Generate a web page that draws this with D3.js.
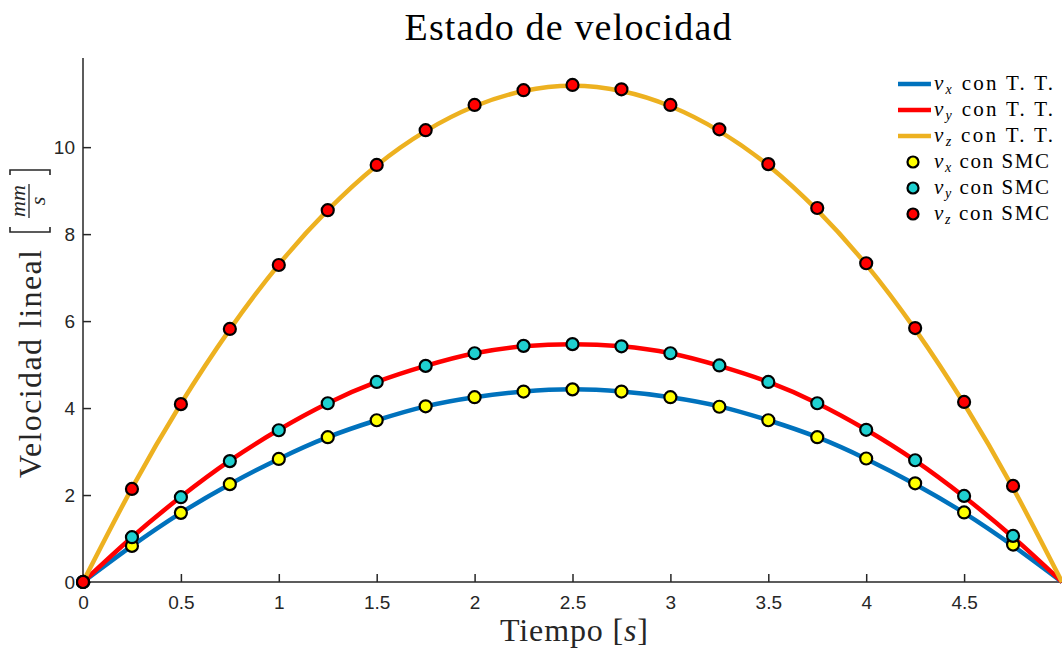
<!DOCTYPE html>
<html>
<head>
<meta charset="utf-8">
<script src="https://cdn.jsdelivr.net/npm/d3@7"></script>
<style>
  body { margin: 0; background: #fff; }
  svg { display: block; }
</style>
</head>
<body>
<svg width="1062" height="649"></svg>
<script>
// tiempo de muestreo (s)
const tiempoTT = [0, 0.25, 0.5, 0.75, 1, 1.25, 1.5, 1.75, 2, 2.25, 2.5, 2.75, 3, 3.25, 3.5, 3.75, 4, 4.25, 4.5, 4.75, 5];
const tiempoSMC = [0, 0.25, 0.5, 0.75, 1, 1.25, 1.5, 1.75, 2, 2.25, 2.5, 2.75, 3, 3.25, 3.5, 3.75, 4, 4.25, 4.5, 4.75];

// velocidades con T. T. (lineas)
const vxTT = [0, 0.83, 1.59, 2.25, 2.83, 3.33, 3.72, 4.04, 4.25, 4.38, 4.43, 4.38, 4.25, 4.04, 3.72, 3.33, 2.83, 2.25, 1.59, 0.83, 0];
const vyTT = [0, 1.03, 1.96, 2.79, 3.50, 4.11, 4.60, 4.97, 5.26, 5.42, 5.47, 5.42, 5.26, 4.97, 4.60, 4.11, 3.50, 2.79, 1.96, 1.03, 0];
const vzTT = [0, 2.16, 4.10, 5.81, 7.30, 8.55, 9.58, 10.37, 10.94, 11.29, 11.41, 11.29, 10.94, 10.37, 9.58, 8.55, 7.30, 5.81, 4.10, 2.16, 0];

// velocidades con SMC (marcadores)
const vxSMC = [0, 0.83, 1.59, 2.25, 2.83, 3.33, 3.72, 4.04, 4.25, 4.38, 4.43, 4.38, 4.25, 4.03, 3.72, 3.33, 2.84, 2.27, 1.60, 0.86];
const vySMC = [0, 1.03, 1.95, 2.78, 3.49, 4.11, 4.60, 4.97, 5.26, 5.43, 5.47, 5.42, 5.26, 4.98, 4.60, 4.11, 3.50, 2.80, 1.98, 1.06];
const vzSMC = [0, 2.14, 4.09, 5.82, 7.29, 8.55, 9.59, 10.39, 10.97, 11.31, 11.43, 11.33, 10.97, 10.41, 9.61, 8.60, 7.33, 5.84, 4.14, 2.21];

const xTicks = [0, 0.5, 1, 1.5, 2, 2.5, 3, 3.5, 4, 4.5];
const yTicks = [0, 2, 4, 6, 8, 10];

const svg = d3.select("svg");
const serif = "'Liberation Serif', 'Times New Roman', serif";
const sans = "'Liberation Sans', Arial, sans-serif";
const axisColor = "#262626";

const x = d3.scaleLinear().domain([0, 5]).range([83, 1062]);
const y = d3.scaleLinear().domain([0, 12.05]).range([582, 58]);

// ejes (sin caja, ticks hacia dentro)
const xAxis = svg.append("g")
  .attr("transform", `translate(0,${y(0)})`)
  .call(d3.axisBottom(x).tickValues(xTicks).tickSize(-8).tickPadding(14).tickFormat(d3.format("")));
const yAxis = svg.append("g")
  .attr("transform", `translate(${x(0)},0)`)
  .call(d3.axisLeft(y).tickValues(yTicks).tickSize(-8).tickPadding(8).tickFormat(d3.format("")));

[xAxis, yAxis].forEach(a => {
  a.select(".domain").attr("stroke", axisColor).attr("stroke-width", 1.5).attr("d",
    a === xAxis ? `M${x(0)},0H${x(5)}` : `M0,${y(12.05)}V${y(0)}`);
  a.selectAll(".tick line").attr("stroke", axisColor).attr("stroke-width", 1.5);
  a.selectAll(".tick text").attr("fill", axisColor).style("font-family", sans).style("font-size", "19px");
});

// lineas T. T.
const seriesTT = [
  {vals: vxTT, color: "#0072BD"},
  {vals: vyTT, color: "#FF0000"},
  {vals: vzTT, color: "#EDB120"}
];
const line = d3.line().curve(d3.curveNatural);
seriesTT.forEach(s => {
  svg.append("path")
    .attr("d", line(tiempoTT.map((t, i) => [x(t), y(s.vals[i])])))
    .attr("fill", "none")
    .attr("stroke", s.color)
    .attr("stroke-width", 4.5)
    .attr("stroke-linecap", "butt");
});

// marcadores SMC
const seriesSMC = [
  {vals: vxSMC, color: "#FFFF00"},
  {vals: vySMC, color: "#1FD0D0"},
  {vals: vzSMC, color: "#FF0000"}
];
seriesSMC.forEach(s => {
  svg.append("g").selectAll("circle")
    .data(tiempoSMC)
    .enter().append("circle")
    .attr("cx", d => x(d))
    .attr("cy", (d, i) => y(s.vals[i]))
    .attr("r", 6)
    .attr("fill", s.color)
    .attr("stroke", "#000")
    .attr("stroke-width", 2.2);
});

// titulo
svg.append("text")
  .attr("x", 568).attr("y", 40)
  .attr("text-anchor", "middle")
  .attr("textLength", 327).attr("lengthAdjust", "spacing")
  .style("font-family", serif).style("font-size", "38px").attr("fill", "#000")
  .text("Estado de velocidad");

// etiqueta eje x
const xl = svg.append("text")
  .attr("x", 574).attr("y", 641)
  .attr("text-anchor", "middle")
  .attr("textLength", 148).attr("lengthAdjust", "spacing")
  .style("font-family", serif).style("font-size", "32px").attr("fill", "#262626");
xl.append("tspan").text("Tiempo [");
xl.append("tspan").style("font-style", "italic").text("s");
xl.append("tspan").text("]");

// etiqueta eje y con fraccion
const yl = svg.append("g").attr("transform", "translate(41,478) rotate(-90)");
yl.append("text")
  .attr("x", 0).attr("y", 0)
  .attr("textLength", 228).attr("lengthAdjust", "spacing")
  .style("font-family", serif).style("font-size", "32px").attr("fill", "#262626")
  .text("Velocidad lineal");
const ink = "#262626";
// corchetes
yl.append("path").attr("d", "M251,-31H246V9H251").attr("fill", "none").attr("stroke", ink).attr("stroke-width", 1.6);
yl.append("path").attr("d", "M303,-31H308V9H303").attr("fill", "none").attr("stroke", ink).attr("stroke-width", 1.6);
yl.append("text").attr("x", 277).attr("y", -16).attr("text-anchor", "middle")
  .style("font-family", serif).style("font-size", "22px").style("font-style", "italic").attr("fill", ink).text("mm");
yl.append("line").attr("x1", 260).attr("x2", 294).attr("y1", -12).attr("y2", -12)
  .attr("stroke", ink).attr("stroke-width", 1.3);
yl.append("text").attr("x", 277).attr("y", 4).attr("text-anchor", "middle")
  .style("font-family", serif).style("font-size", "22px").style("font-style", "italic").attr("fill", ink).text("s");

// leyenda
const legendItems = [
  {type: "line", color: "#0072BD", sub: "x", txt: " con T. T.", w: 119},
  {type: "line", color: "#FF0000", sub: "y", txt: " con T. T.", w: 119},
  {type: "line", color: "#EDB120", sub: "z", txt: " con T. T.", w: 119},
  {type: "dot", color: "#FFFF00", sub: "x", txt: " con SMC", w: 115},
  {type: "dot", color: "#1FD0D0", sub: "y", txt: " con SMC", w: 115},
  {type: "dot", color: "#FF0000", sub: "z", txt: " con SMC", w: 115}
];
const lg = svg.append("g");
legendItems.forEach((d, i) => {
  const cy = 84 + i * 26;
  if (d.type === "line") {
    lg.append("line").attr("x1", 898).attr("x2", 931).attr("y1", cy).attr("y2", cy)
      .attr("stroke", d.color).attr("stroke-width", 4.5);
  } else {
    lg.append("circle").attr("cx", 913).attr("cy", cy).attr("r", 5.5)
      .attr("fill", d.color).attr("stroke", "#000").attr("stroke-width", 2.2);
  }
  const t = lg.append("text").attr("x", 934).attr("y", cy + 6)
    .attr("textLength", d.w).attr("lengthAdjust", "spacing")
    .style("font-family", serif).style("font-size", "21px").attr("fill", "#000");
  t.append("tspan").style("font-style", "italic").text("v");
  t.append("tspan").style("font-style", "italic").style("font-size", "14px").attr("dy", 4).text(d.sub);
  t.append("tspan").attr("dy", -4).text(d.txt);
});
</script>
</body>
</html>
